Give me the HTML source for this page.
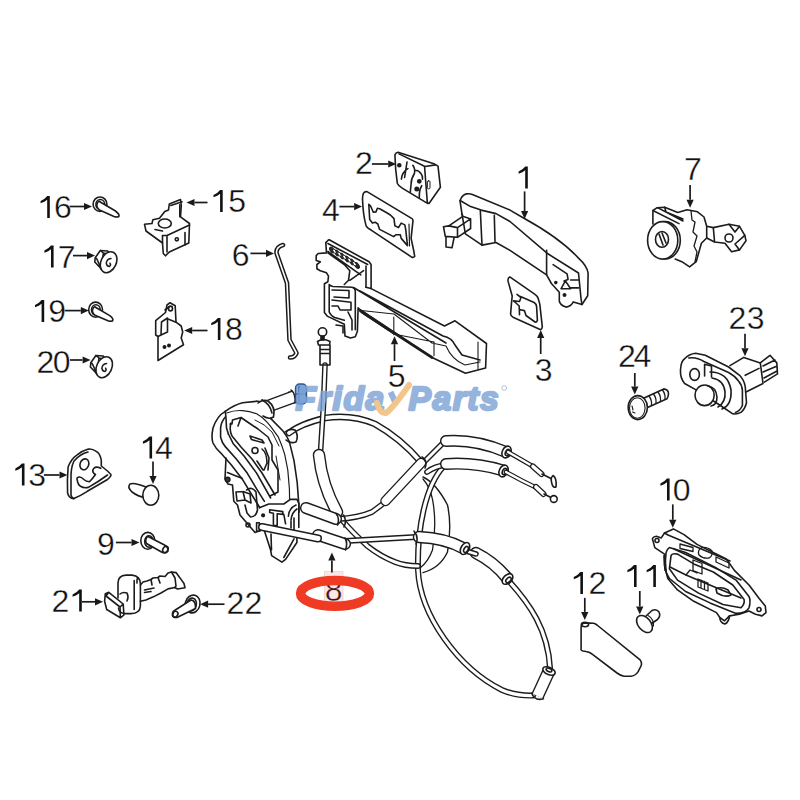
<!DOCTYPE html>
<html><head><meta charset="utf-8"><style>
html,body{margin:0;padding:0;background:#fff;width:800px;height:800px;overflow:hidden}
svg{position:absolute;left:0;top:0;display:block}
text{font-family:"Liberation Sans",sans-serif;font-size:32px;fill:#111;stroke:#fff;stroke-width:0.35px}
</style></head><body>
<svg width="800" height="800" viewBox="0 0 800 800">
<g fill="none" stroke="#1c1c1c" stroke-width="1.6" stroke-linejoin="round" stroke-linecap="round">
<!-- 16 screw -->
<ellipse cx="100" cy="204.2" rx="6.9" ry="7.2" fill="#fff"/>
<ellipse cx="100.3" cy="204.5" rx="4.4" ry="5"/>
<path d="M99 201.3 L115.5 211 Q120 214.5 118.8 216.5 Q117 217.5 114 216.5 L99.5 210 Q96.3 207.5 97 204 Q97.6 201.8 99 201.3 Z" fill="#fff"/>
<!-- 19 screw -->
<ellipse cx="95.6" cy="309.7" rx="6.9" ry="7.6" fill="#fff"/>
<ellipse cx="95.9" cy="310" rx="4.4" ry="5.2"/>
<path d="M94.6 306.8 L109.8 315.6 Q114 319 112.6 320.8 Q111 321.8 108 320.8 L95 315.2 Q91.8 312.8 92.6 309.5 Q93.2 307.3 94.6 306.8 Z" fill="#fff"/>
<!-- 17 nut -->
<path d="M95.2 257.8 L100.3 250.5 L107.6 251 L109 253.5 M95.2 257.8 L94.8 262 L100 267.5 L102 270 M96.6 258.5 L100.5 267 M100.3 250.5 L103.4 253 L101.5 268 M103.4 253 L108 254"/>
<ellipse cx="108.6" cy="262.2" rx="7.6" ry="11" transform="rotate(25 108.6 262.2)" fill="#fff"/>
<path d="M111 258.5 Q106.5 259 106.3 263.5 Q107 266.5 109.5 266.5 Q111.3 265 110 263.2" stroke-width="1.5"/>
<!-- 20 nut -->
<g transform="translate(-4.4 105)"><path d="M95.2 257.8 L100.3 250.5 L107.6 251 L109 253.5 M95.2 257.8 L94.8 262 L100 267.5 L102 270 M96.6 258.5 L100.5 267 M100.3 250.5 L103.4 253 L101.5 268 M103.4 253 L108 254"/>
<ellipse cx="108.6" cy="262.2" rx="7.6" ry="11" transform="rotate(25 108.6 262.2)" fill="#fff"/>
<path d="M111 258.5 Q106.5 259 106.3 263.5 Q107 266.5 109.5 266.5 Q111.3 265 110 263.2" stroke-width="1.5"/>
</g>
<!-- 15 bracket -->
<path d="M144.5 224.3 L146 231 L162.5 243 L163.3 253.5 L165.5 255.8 L169.3 252 L188.8 243 L189.5 223.5 L180.5 216.8 L181.3 205.5 L180.5 199.5 L169.3 204 L168.5 210 L164.8 211.5 L159.5 218.3 L152.8 219.8 L152 223.5 Z"/>
<path d="M170.8 205.5 L182 201.8 M179.8 204.8 L179.8 216.8 M162.5 235.5 L162.5 243 M167 235.5 L167 252 M162.5 235.5 L167 235.5 L189.5 225 M185 232.5 L185 245 M155 229.5 L162.5 231"/>
<ellipse cx="164.8" cy="223.5" rx="6.5" ry="4.5"/>
<circle cx="176.8" cy="239.3" r="1.6"/>
<!-- 18 bracket -->
<path d="M158 360.5 L158 336.5 L155.7 335 L155.7 320.7 L165.5 312.5 L167 305 L170 302.7 L175.2 305.7 L176 322.2 L181.2 326 L182.7 332 L181.2 338 L183.5 344.7 Z"/>
<path d="M158 336.5 L161 335 L161.5 322 L167.5 318 L167.5 332 L161 335 M165 310 L169 307 M176 322.2 L168 319"/>
<ellipse cx="170.5" cy="308.5" rx="2" ry="2.4"/>
<circle cx="164.5" cy="347" r="1.2" fill="#1c1c1c"/><circle cx="169" cy="345.5" r="1.2" fill="#1c1c1c"/>
<!-- 6 rod -->
<path d="M283 245 Q276 247 276.5 253 L287 283 L289.5 340 L296.5 353 Q295 357.5 290 357.5" stroke-width="4.6"/>
<path d="M283 245 Q276 247 276.5 253 L287 283 L289.5 340 L296.5 353 Q295 357.5 290 357.5" stroke="#fff" stroke-width="1.6"/>
<!-- 2 cover -->
<path d="M394.9 154.8 Q396 152.5 398.1 152.3 L434.7 164.1 L438 166.1 L440.4 187.3 L429 203.5 L425 201.9 L402.2 188.1 Q398.5 186 397.3 183.2 L395.7 169.4 Z"/>
<path d="M399 153.9 L425 166.5 L435.5 164.9 M424.6 167 L427.4 203.5"/>
<path d="M401.4 179.1 Q402 172 407.9 168.6 M407 162 L404.6 177.5 M412.8 165.3 Q415.5 169 414.4 173.5 Q411 179 411.1 184 L410.3 192.2 M415.2 170.2 Q419 170.5 420.9 173.5 Q423 176 422.5 179.1 M421.7 185.7 Q419 190 419.3 197.8"/>
<circle cx="399.3" cy="165.3" r="1.5" fill="#1c1c1c"/><circle cx="419.3" cy="181.3" r="1.6" fill="#1c1c1c"/><circle cx="416.8" cy="188.9" r="1.7" fill="#1c1c1c"/>
<rect x="427.4" y="180.8" width="2.6" height="8" rx="1" stroke-width="1"/>
<!-- 4 gasket -->
<path d="M363.4 193.4 Q364.5 191.4 367 191.6 L412 218.6 Q413.3 219.6 412.9 221.3 L411.1 238.4 L413.8 251 L414.7 256.4 Q413.8 257.8 412 257.3 L371.5 230.3 Q367 228 366.1 225.8 Q363 215 362.5 198.8 Q362.6 195 363.4 193.4 Z"/>
<path d="M368.8 204.2 L370.6 206 L373.3 212.3 L376 211.9 L377.4 208.3 L379.6 208.7 L385.9 212.3 L390.4 215 L394 218.6 L394.9 225.8 L398.5 227.6 L401.2 223.1 L404.8 224.9 L405.7 229.4 L407.5 245.6 L401.2 238.4 L400.3 234.8 L395.8 234.8 L393.6 236.6 L379.6 229.4 L377.8 224 L375.1 222.2 L372.4 223.1 L369.7 219.5 Z"/>
<path d="M409 224 L409.5 246" stroke-width="1.2"/>
<!-- 1 handle -->
<path d="M460.1 200.5 Q462 195 466.3 193.9 Q470 193.5 472.4 194.4 L510 210.1 L523.5 218 Q560 238 578.8 258.4 Q587 266 588.1 273 L587.7 295.8 L582 304.5 L573.3 301.9 Q571 306.5 566 307.1 Q560 305 559.3 301 L559.3 292.3 L551.4 283.5 L546.6 274.8 L510 250.4 L496 242.5 L482 245.1 L465.4 233.8 L461.9 213.6 L460.1 201.4 Z"/>
<path d="M460.1 200.5 L470.6 206.6 L481.1 210.1 L496 213.6 L510 221.5 L547.9 253.8 L578.5 273 L581.1 299.3 L582 304.5"/>
<path d="M480.3 210 L482 245.1 M494.3 215.4 L495 241.6 M546.6 250.3 L546.6 274.8"/>
<path d="M457.5 227.6 L470.6 218.9 L470.6 228.5 L457.5 237.3 Z M443.5 226.8 L448.8 225.9 L462.8 216.3 L470.6 218.9 M448.8 225.9 L457.5 227.6 M443.5 226.8 L445.3 236.4 L457.5 237.3 M446 236.5 L446 247 L452 247.8 L454 238 M461.9 213.6 L462.8 216.3"/>
<path d="M553.1 264.7 L567.1 273.9 L568 279.1 M561 288.8 L565.4 280.9 L570.6 288.8 Z M570.6 280 L578.5 280 M570.6 287.9 L578.5 287.9 M564 281 L568 279.5"/>
<circle cx="555.8" cy="282.6" r="1" fill="#1c1c1c"/><circle cx="564.5" cy="294.9" r="1.2" fill="#1c1c1c"/>
<!-- 3 small gasket -->
<path d="M508.1 281.4 Q507.5 277.5 509.8 276.9 L535 294.4 Q537.5 296 538.2 298.5 L539.8 304.1 L542.3 326.9 Q542 329.5 540.7 329.8 L513 317.2 Q510.5 315.5 510.6 313.9 L511.4 304.1 L512.2 296 Z"/>
<path d="M520.5 296.5 L534.1 302.5 Q536.5 304 536.6 306.6 L537.4 320.4 Q536.5 322.5 535 322 L526 315.5 L524.4 310.6 L520.3 309.8 M519.5 314.7 L519.2 306 L515.4 302.5 L513.4 300.9 L519.5 301.5 L521 297.5 L517 294.4"/>
<!-- 5 handle base -->
<path d="M327.9 240.5 Q328.5 239.5 329.2 239.8 L369.1 261.8 L371.1 264.5 L371.1 288.6 L444.5 326 L455 320.8 L486.5 343.5 L485.6 368 L465.5 373.3 L432 357.5 L359.5 309.2 L358.1 307.8 L357.4 331.2 L355.3 336.7 L350.5 338 L345 336 L344.3 324.3 L327.2 316.1 L324.4 312.6 L324.4 283.8 L327.9 281.7 L328.5 276.2 L326.5 272.8 L320.3 270.7 L316.9 268.7 L316.9 264.5 L320.3 261.8 L316.2 260.4 L316.2 255.6 L318.2 253.5 L326.5 252.9 L325.8 242.6 Z"/>
<path d="M353.5 287.5 L441 340 L446 343 M360 291 L443 336 Q452 338 455 345 L462 355 L480 360 M371.1 288.6 L365.8 287.2"/>
<path d="M358.8 310.3 L394 314 L432 343 L446 346 M362 313 L393.8 334 L434 342 M393.8 317 L393.8 334.8 M434 341.8 L434 355.8 M446 346 Q452 360 465 365 L480 362 M478 342 L478 369" stroke-width="1.1"/>
<path d="M360.5 311 L432 357.5" stroke-width="2.8" stroke-dasharray="1.2 1.1"/>
<path d="M327.9 243.5 L367.7 264.5 M327.9 251.5 L360.8 274.8 M327.9 252.9 L344.3 264.5 L349.8 270.7 L348.5 280.3 L344.3 284.5 M363.6 270.7 L349.8 280.3 M366 266 L366 287"/>
<g fill="#2a2a2a" stroke-width="1"><ellipse cx="332" cy="250" rx="1.8" ry="3.3" transform="rotate(-35 332 250)"/><ellipse cx="337" cy="253" rx="1.8" ry="3.3" transform="rotate(-35 337 253)"/><ellipse cx="342" cy="256" rx="1.8" ry="3.3" transform="rotate(-35 342 256)"/><ellipse cx="347" cy="259" rx="1.8" ry="3.3" transform="rotate(-35 347 259)"/><ellipse cx="352" cy="262" rx="1.8" ry="3.3" transform="rotate(-35 352 262)"/><ellipse cx="357" cy="265.5" rx="1.8" ry="3.3" transform="rotate(-35 357 265.5)"/></g>
<g fill="#fff" stroke-width="0.9"><ellipse cx="334.5" cy="251.2" rx="1.3" ry="2.6" transform="rotate(-35 334.5 251.2)"/><ellipse cx="339.5" cy="254.2" rx="1.3" ry="2.6" transform="rotate(-35 339.5 254.2)"/><ellipse cx="344.5" cy="257.2" rx="1.3" ry="2.6" transform="rotate(-35 344.5 257.2)"/><ellipse cx="349.5" cy="260.2" rx="1.3" ry="2.6" transform="rotate(-35 349.5 260.2)"/><ellipse cx="354.5" cy="263.7" rx="1.3" ry="2.6" transform="rotate(-35 354.5 263.7)"/></g>
<path d="M329.2 284.5 Q330 286 333 286.5 L352 287.2 Q355 288 355.3 291 L355.3 329.8 M329.2 284.5 L329.2 312 Q331 316 334.7 317.4 L344.3 320.2 M332 290 L349 290.5 L349 298 L334 297 M332 300 L351 302.3 L351 310 L340 310 L338 306 L332 306 M348 312 L352 320 L352 330 M336 325 L343 326 L343 333"/>
<!-- 7 lock cylinder -->
<path d="M652.9 224 L652.9 210.5 L656.8 207.9 L664.7 207.2 L677.8 212.5 L687 209.8 L697.5 211.8 L704 217 L706.7 226.3 L713.3 227.6 L729 224.3 L739.5 226.3 L744.8 235.4 L746 240.7 L739.5 249.9 L731.6 251.8 L725 243.3 L714.6 242 L706.7 238 L701.4 243.3 L696.2 261.7 L689.6 266.9 L681.8 261.7 L675.2 259"/>
<path d="M652.9 210.5 L679 223.6 M658 207.9 L683 221 M664.7 207.2 L666 212 L683 219 M706.7 226.3 L706.7 238 M713.3 227.6 L714.6 242 M729 224.3 L735 232 L739.5 226.3 M739.5 249.9 L735 244 L744.8 235.4"/>
<path d="M691 211 L692 220 L695 222 L693 232 L697 236 L694 246 L697 252 L695 262" stroke-width="1.3"/>
<circle cx="729" cy="238" r="4"/>
<ellipse cx="665" cy="240.3" rx="15.3" ry="18.7" fill="#fff"/>
<ellipse cx="662.7" cy="240.3" rx="15.1" ry="18.7" fill="#fff"/>
<ellipse cx="662" cy="239.4" rx="6.5" ry="7.9"/>
<path d="M659 234 L663 245 M662 233 L666 243"/>
<!-- 23 switch -->
<path d="M730 365.6 L743.8 357.4 L760.3 362.9 L763 383.5 L746.5 391.8 M745.2 375.3 L759 368.4"/>
<path d="M760.3 362.9 L770 355.3 L776.8 362.9 L777.5 373.9 L764.4 382.1 M763 366 L775 360 M763 372 L776 366.5 M764 378 L777 371"/>
<path d="M680.5 369.8 Q681 361 684.6 358.8 Q689 354 695.6 353.3 L705.3 355.3 L728.6 367 L739.6 375.3 Q744 380 745.2 386.3 L746.5 402.8 Q745 409 741 412.4 Q737 414.5 732.8 413.8 L720.4 405.5 L697 390.4 L684.6 383.5 Q680 378 680.5 369.8 Z" fill="#fff"/>
<path d="M688.8 358 Q697 357 703.9 361.5 L728.6 372.5 Q735 376 738.3 380.8 Q742 385 742.4 390.4 L742.4 405.5 Q740 411 735.5 412.4"/>
<ellipse cx="694.6" cy="374.5" rx="4.8" ry="5.9"/>
<path d="M704.6 376 L704.6 364.3 L711.5 366 L711.5 377"/>
<path d="M710 372 Q728 372 731 390 Q732 405 722 409 M712 378 Q724 380 725 392 Q726 402 718 407"/>
<ellipse cx="704.6" cy="395.3" rx="9.6" ry="10.3" fill="#fff"/>
<path d="M708 386 Q716 387 717 397 Q717 405 711 406"/>
<!-- 24 screw -->
<path d="M643.5 398.3 L663.8 388.9 Q668.5 389.5 668.5 394 Q668 397.5 667 398.7 L647.5 407.6"/>
<path d="M649 396 Q652 400 651.5 405 M653.5 394 Q656.5 398 656 403 M658 392 Q661 396 660.5 401 M662.5 390 Q665.5 394 665 399" stroke-width="1.3"/>
<ellipse cx="637.8" cy="407.6" rx="9.6" ry="12" fill="#fff"/>
<ellipse cx="637.3" cy="408" rx="7.8" ry="10.2" stroke-width="1.1"/>
<path d="M632 406 L633 410 M632.5 412 L635 413" stroke-width="1.1"/>
<!-- 13 striker -->
<path d="M68.1 467 Q67 480 67.6 493 Q69 498.5 73.8 498.6 Q80 496 87.3 491.3 L107.5 479.5 Q111.5 476 110.9 474.5 L107.5 471 L101.3 466 L101.3 460.4 Q100 453 96.3 451.4 Q92 448.5 88.4 449.1 Q82 451 77.1 454.8 Q71 459 68.1 467 Z"/>
<path d="M88 452 Q80 454 74 461 Q70.5 468 71 480 L71 495 Q72 498.5 74 498.6"/>
<ellipse cx="84.4" cy="464.3" rx="4.3" ry="5.6" transform="rotate(20 84.4 464.3)"/>
<path d="M77.1 479.5 Q78 485 80.5 486.3 Q84 488.5 88.4 487.4 Q98 482 107.5 475 M100.8 468.3 Q96 466 94 468.3 Q91.5 471 94 473.5 L95.5 474.5 Q93 478 89.5 481.8 Q86 481.5 83.9 479.5 Q80.5 476 78.3 477.3 Q76.5 478 77.1 479.5"/>
<!-- 14 pin -->
<path d="M130 484 Q134 482 146 487 L147 497 Q140 498 132 492 Q127 487 130 484 Z"/>
<ellipse cx="150.8" cy="495.3" rx="8" ry="10" fill="#fff"/>
<!-- 9 bolt -->
<ellipse cx="147.8" cy="540.8" rx="7" ry="8.4" fill="#fff"/>
<ellipse cx="149" cy="541.5" rx="4.3" ry="5.8"/>
<path d="M147.5 536.2 L164.5 545 Q169 547.5 167.8 551.5 Q165.5 554 161.5 552 L146.5 543.5 Q144.5 540 147.5 536.2 Z" fill="#fff"/>
<ellipse cx="165.4" cy="549.4" rx="2.4" ry="3.4" transform="rotate(30 165.4 549.4)"/>
<!-- 21 -->
<path d="M118 598 L118 583 Q118 575.5 126 575.1 L132 575.1 Q140.4 576 140.4 584 L140.4 606 Q140 613.6 131 613.6 L125 613.6 Q119 613 118.5 608"/>
<path d="M134.2 580.6 L134.2 609.5 M137.5 578 Q136.5 580 137 583"/>
<path d="M120 594 Q123 591.5 127 593 Q129 597 127 601"/>
<path d="M140.4 585 L143 582 L147 581 L151 579.5 L153 578 L158 577.5 L160 576 L165 576.5 L168 573 L171.5 572 L176 572.6 L180 577.9 L184 583.5 L185 587.7 L177.5 589 L174.8 587.5 L168 588.9 L161 593 L152.8 597.1 L145.9 600 L140.4 601.3"/>
<path d="M144.5 590 L154 588 M144.5 592.5 L151 591.5 M171.5 572 L175 578 L176 586 L174.8 587.5 M158 577.5 L160 583 M151 579.5 L152 585"/>
<path d="M105.3 593.7 L108.8 592.3 L123.2 604 L123.9 615 L120.4 617.8 L106.7 609.5 L104.6 601.3 Z M108.8 592.3 L106 596 L120 607 L123.2 604 M120 607 L120.4 617.8"/>
<!-- 22 bolt -->
<ellipse cx="192.6" cy="604" rx="7.4" ry="9" transform="rotate(15 192.6 604)" fill="#fff"/>
<ellipse cx="191.5" cy="604.5" rx="4.8" ry="6.5" transform="rotate(15 191.5 604.5)"/>
<path d="M191 600 Q196 600.5 195.5 608.5 L177 617.5 Q172 618 172.5 613 Q173 611 174.5 610.5 Z" fill="#fff"/>
<ellipse cx="175.3" cy="614.3" rx="2.4" ry="3.1" transform="rotate(30 175.3 614.3)"/>
<!-- 12 cover -->
<path d="M581.1 650 L581.1 627 Q581.5 623 585 622.9 L593.4 623.3 Q595 623.5 597 625 L639.8 659.6 Q642.5 663 641 666 L638 671.9 Q635 676 631 676.2 L624 676.2 Q621 676 617 673 L592.5 654.4 Q590 652 586 651.5 L583 651 Q581 650.5 581.1 650 Z"/>
<ellipse cx="585" cy="624.6" rx="3.6" ry="2.2"/>
<!-- 11 pin -->
<path d="M646 616 L652 610.5 Q656.5 608.5 659 612 Q661 616 657.5 619.5 L651 624"/>
<ellipse cx="644.5" cy="624" rx="6.3" ry="9.8" transform="rotate(-40 644.5 624)" fill="#fff"/>
<path d="M648 615.5 Q654 619 653.5 626" stroke-width="1.1"/>
<!-- 10 inner handle -->
<path d="M653.1 541.1 Q651 537 656.4 536.3 L661.3 537.9 L664.5 533 L673.4 528.9 L684 534.6 L697 544.4 L726.3 559 L734.4 570.4 L749 585 L758.8 598 L765.3 606.1 L766 612.6 L762 615.9 L755.5 614.3 L749 611 L739.3 614.3 L729.5 615.9 L724.6 620.8 L719.8 617.5 L716.5 612.6 L693.8 601.3 L677.5 589.9 L667.8 578.5 L664.5 565.5 L664.5 554.1 L654.8 547.6 Z"/>
<path d="M669.4 547.6 Q667 549 666.1 552.5 L664.8 567.1 Q666 574 669.4 578.5 L685.6 591.5 L710 602.9 L736 613.4 Q746 613 749 607.8 Q751 601 749 596.4 L736 580.1 L714.9 567.1 L685.6 552.5 Z"/>
<path d="M677.5 554.1 Q672 553 671 555.8 L669.4 568.8 L677.5 580.1 L698.6 593.1 L723 604.5 L740.9 607.8 Q745 604 744.1 599.6 L732.8 585 L713.3 572 L693.8 563.9 Z"/>
<path d="M668 535 L730 561 M674 549 L741 580 M670 567 L686 575 L705 583 L741 598 M664.5 533 L668 535"/>
<path d="M680 544 L693 547.5 L693 551.5 L680 548.5 Z M702 547.5 Q708 547 712 551 Q713 556 709 558 Q703 559 699 555 Q697 550 702 547.5 Z M716 557 L729 563 L729 568 L716 562 Z M693 560 L702 563.5 L702 574 L693 570.5 Z M686 575 L690 570 L697 573 M698 579 L708 583 L708 591 L698 587 Z M701 580 L701 588 M704.5 581.5 L704.5 589.5" stroke-width="1.3"/>
<path d="M716 589 Q721 586 728 590 L731 595 Q725 598 717 593 Z"/>
<circle cx="657" cy="540.5" r="2"/><circle cx="759" cy="609.5" r="2"/>
<path d="M719.8 617.5 Q720 623 725 624 Q729 622 729.5 615.9"/>
<path d="M664.5 556 L665.5 570" stroke-width="2.6"/>


<path d="M423 477 Q436 483 447.5 505 Q452 525 447.5 552 Q440 568 423 572.6" stroke-width="1.4"/>
<path d="M423 479 Q430 487 432.5 499.4 Q437 523 432.5 550 Q428 562 420 568" stroke-width="1.3"/>
<path d="M444 466 C425 486 417 530 418 570 C420 615 458 668 502 690 Q516 696 533 695.5" stroke="#1c1c1c" stroke-width="6" stroke-linecap="round"/><path d="M444 466 C425 486 417 530 418 570 C420 615 458 668 502 690 Q516 696 533 695.5" stroke="#fff" stroke-width="3.2" stroke-linecap="round"/>
<path d="M508 580 C530 604 548 630 550 668" stroke="#1c1c1c" stroke-width="6" stroke-linecap="round"/><path d="M508 580 C530 604 548 630 550 668" stroke="#fff" stroke-width="3.2" stroke-linecap="round"/>
<path d="M289 433 Q300 424 325 418 Q352 414 375 424 Q400 438 420 461" stroke="#1c1c1c" stroke-width="6.6" stroke-linecap="round"/><path d="M289 433 Q300 424 325 418 Q352 414 375 424 Q400 438 420 461" stroke="#fff" stroke-width="3.8" stroke-linecap="round"/>
<path d="M325 365 L323.5 405 L320.5 452" stroke="#1c1c1c" stroke-width="5.6" stroke-linecap="round"/><path d="M325 365 L323.5 405 L320.5 452" stroke="#fff" stroke-width="2.8" stroke-linecap="round"/>
<path d="M342 520 Q352 532 367.8 546.3 Q380 556 395 562 Q405 566 418 566" stroke="#1c1c1c" stroke-width="5.8" stroke-linecap="round"/><path d="M342 520 Q352 532 367.8 546.3 Q380 556 395 562 Q405 566 418 566" stroke="#fff" stroke-width="3.0" stroke-linecap="round"/>
<path d="M338 519 Q358 518 372 512 L384 503" stroke="#1c1c1c" stroke-width="5.8" stroke-linecap="round"/><path d="M338 519 Q358 518 372 512 L384 503" stroke="#fff" stroke-width="3.0" stroke-linecap="round"/>
<path d="M424 462 L432 454 L445 441" stroke="#1c1c1c" stroke-width="5.8" stroke-linecap="round"/><path d="M424 462 L432 454 L445 441" stroke="#fff" stroke-width="3.0" stroke-linecap="round"/>
<path d="M427 472 Q435 466 446 465" stroke="#1c1c1c" stroke-width="5.8" stroke-linecap="round"/><path d="M427 472 Q435 466 446 465" stroke="#fff" stroke-width="3.0" stroke-linecap="round"/>
<path d="M345 541 Q380 539 416 537" stroke="#1c1c1c" stroke-width="6" stroke-linecap="round"/><path d="M345 541 Q380 539 416 537" stroke="#fff" stroke-width="3.2" stroke-linecap="round"/>
<path d="M319 455 Q322 485 337 512" stroke="#1c1c1c" stroke-width="12.5" stroke-linecap="round"/><path d="M319 455 Q322 485 337 512" stroke="#fff" stroke-width="9.7" stroke-linecap="round"/>
<path d="M306 508 L336 519" stroke="#1c1c1c" stroke-width="12" stroke-linecap="round"/><path d="M306 508 L336 519" stroke="#fff" stroke-width="9.2" stroke-linecap="round"/>
<path d="M385.5 501 L421 463" stroke="#1c1c1c" stroke-width="10.5" stroke-linecap="round"/><path d="M385.5 501 L421 463" stroke="#fff" stroke-width="7.7" stroke-linecap="round"/>
<path d="M318 535 L345 544" stroke="#1c1c1c" stroke-width="12" stroke-linecap="round"/><path d="M318 535 L345 544" stroke="#fff" stroke-width="9.2" stroke-linecap="round"/>
<path d="M419 537 Q445 538 464 548.5" stroke="#1c1c1c" stroke-width="12.5" stroke-linecap="round"/><path d="M419 537 Q445 538 464 548.5" stroke="#fff" stroke-width="9.7" stroke-linecap="round"/>
<path d="M476 553 Q494 562 507 578" stroke="#1c1c1c" stroke-width="12.5" stroke-linecap="round"/><path d="M476 553 Q494 562 507 578" stroke="#fff" stroke-width="9.7" stroke-linecap="round"/>
<path d="M446 441 Q476 439 506 452" stroke="#1c1c1c" stroke-width="12" stroke-linecap="round"/><path d="M446 441 Q476 439 506 452" stroke="#fff" stroke-width="9.2" stroke-linecap="round"/>
<path d="M446 464 Q475 462 503 470.5" stroke="#1c1c1c" stroke-width="12" stroke-linecap="round"/><path d="M446 464 Q475 462 503 470.5" stroke="#fff" stroke-width="9.2" stroke-linecap="round"/>
<path d="M549 671 L537.5 696" stroke="#1c1c1c" stroke-width="13" stroke-linecap="butt"/><path d="M549 671 L537.5 696" stroke="#fff" stroke-width="10.2" stroke-linecap="butt"/>
<path d="M531.6 693.3 Q535 701.5 543.4 698.7" />
<ellipse cx="549" cy="671" rx="6.6" ry="3.6" transform="rotate(24 549 671)" fill="#fff"/><ellipse cx="549" cy="670" rx="3" ry="1.6" transform="rotate(24 549 670)"/>
<path d="M466 551 L476 554" stroke="#1c1c1c" stroke-width="5.5" stroke-linecap="round"/><path d="M466 551 L476 554" stroke="#fff" stroke-width="2.7" stroke-linecap="round"/>
<ellipse cx="506.5" cy="452" rx="4.2" ry="6.2" fill="#fff" transform="rotate(25 506.5 452)"/><ellipse cx="507.5" cy="452.5" rx="2" ry="3.3" transform="rotate(25 507.5 452.5)"/>
<ellipse cx="503.5" cy="471" rx="4.2" ry="6.2" fill="#fff" transform="rotate(25 503.5 471)"/><ellipse cx="504.5" cy="471.5" rx="2" ry="3.3" transform="rotate(25 504.5 471.5)"/>
<ellipse cx="465" cy="548.5" rx="4" ry="6.5" fill="#fff" transform="rotate(30 465 548.5)"/><ellipse cx="466" cy="549.5" rx="2" ry="3.3" transform="rotate(30 466 549.5)"/>
<ellipse cx="507.5" cy="579" rx="4" ry="6.3" fill="#fff" transform="rotate(45 507.5 579)"/><ellipse cx="508.5" cy="580" rx="2" ry="3.2" transform="rotate(45 508.5 580)"/>
<path d="M336 513.5 Q340 518 337.5 525 M343.5 515 Q347 521 344 527 M345 538 Q348 543 345.5 550 M414 531 Q419 537 416 544 M422 457 Q428 461 425 468"/>
<path d="M508 452 Q522 460 534 467" stroke="#1c1c1c" stroke-width="4.6" stroke-linecap="round"/><path d="M508 452 Q522 460 534 467" stroke="#fff" stroke-width="2.1999999999999997" stroke-linecap="round"/>
<path d="M506 472 Q522 481 537 488" stroke="#1c1c1c" stroke-width="4.6" stroke-linecap="round"/><path d="M506 472 Q522 481 537 488" stroke="#fff" stroke-width="2.1999999999999997" stroke-linecap="round"/>
<path d="M533 466.5 L541.5 474" stroke="#1c1c1c" stroke-width="6" stroke-linecap="round"/><path d="M533 466.5 L541.5 474" stroke="#fff" stroke-width="3.6" stroke-linecap="round"/>
<path d="M536 487 L543.5 494" stroke="#1c1c1c" stroke-width="6" stroke-linecap="round"/><path d="M536 487 L543.5 494" stroke="#fff" stroke-width="3.6" stroke-linecap="round"/>
<path d="M542 474 L552 479 M544 494 L551 497.5"/>
<path d="M553 475.5 Q557 478 556 487 Q553 488 552 484 Q550 478 553 475.5 Z" fill="#fff"/><circle cx="553.8" cy="499" r="3.4" fill="#fff"/>
<circle cx="322.5" cy="332" r="4.2" fill="#fff"/><path d="M321 336 L324 336 L324 340 L321 340 Z" fill="#1c1c1c"/><path d="M317.5 341.5 Q323 337.5 330 341.5 L329.5 345 L318.5 345 Z M320 345 L320 365 L330 365 L330 345 M320 349.5 L330 349.5 M320 353.5 L330 353.5"/>
<path d="M225.3 411.4 Q217 416 213 428 Q211 438 213 443 Q216 449 220.6 452.8 L231.6 465.3 L242.5 479.4 L251.9 495 L259.7 507.5"/>
<path d="M225.3 416.9 Q221 422 220.6 428 L220.6 437.2 Q222 443 225.3 446.6 L236.3 459 L247.2 473.1 L256.6 488.8 L264.4 501.3"/>
<path d="M225.3 411.4 L226 418 L226.5 428 L228.4 434"/>
<path d="M225.3 411.4 Q234 405 242.5 402.8 L256.6 401.3 M270.6 418.4 L283 431 Q287 436 289.4 441.9 L294 460.6 L297.2 482.5 L298.8 504.4 L299 512"/>
<path d="M226.9 413 Q234 410 242.5 410.6 Q250 411 256.6 413.8 Q264 418 270.6 426.3 L278.4 437.2 Q282 445 284.7 454.4 L287.8 470 L289.4 488.8 L289.6 500" stroke-width="1.2"/>
<path d="M255 420 Q265 424 272 432 L279 446 M276 456 L280 480" stroke-width="1"/>
<path d="M228.4 434 L233.1 443.4 L244 456 L256.6 473.1 L270.6 498 M231 423 Q229 430 232 436 L241 447 L252 459 L262 473 L275 495"/>
<path d="M230 424 L232 424 L232.5 420 L241 417.5 L249 423 L258 429 L268 437 L272 445 L272 460 L278 470 L278 492 L270 496 M241 417.5 L238 426"/>
<path d="M250 436 L262 440 L264 443 L251.5 439.6 Z"/>
<circle cx="255" cy="450.5" r="3"/>
<path d="M262 449 Q267 453 267 463 L264 470 M265 448 L269 458 L268 470 M257 461 L263 470"/>
<path d="M226 458 L225 478.8 L228 484 L232.5 485 L233.8 501.3 L237.5 505 L240 515 L247.5 523.8 L255 532.5 L262 530"/>
<circle cx="227.6" cy="479.5" r="2.3" fill="#3a3a3a"/>
<path d="M227.5 472.6 L236 476 L242 478.3 M246.6 490 Q252 486 256 492 L257.5 510 Q256 517 250.5 517 L247 513 L245 505"/>
<path d="M236 492 L243 491.5 L245 500 L237 501 Z M243 491.5 L250 494 L251 503 L245 500"/>
<circle cx="248" cy="525" r="2"/>
<path d="M256.6 401.3 Q266 401 270 408 Q273 413 270.6 418.4 M262 400 Q270 404 272 412 M289 392 Q294 396 293 403"/>
<path d="M285 432 Q290 428 295 430 Q299 436 296 442 Q290 444 286 440"/>
<path d="M266 407 L295 396.4" stroke="#1c1c1c" stroke-width="13" stroke-linecap="butt"/><path d="M266 407 L295 396.4" stroke="#fff" stroke-width="10.2" stroke-linecap="butt"/>
<path d="M258 403 Q263 399 268 401 Q276 407 273.5 417 Q269 420 263 416" fill="#fff"/><path d="M262 400 Q270 404 272 413"/>
<path d="M291 390 Q296 394 295 403"/>
<rect x="295.5" y="384" width="11" height="20" rx="4" fill="#86a8d8" stroke="#2e5590" stroke-width="1.4"/><path d="M296 394 L306 394 M299 386 L299 402" stroke="#2e5590" stroke-width="1.1"/>
<path d="M259.4 507.8 L268.8 504 L283.8 504 L290.3 499.4 L296.9 499.4 L298.8 503.1 L298.8 527.5"/>
<path d="M269.7 509.7 L282.8 511.6 L282.8 514.4 L277.2 513.8 L277.2 525.6 L273.4 525.6 L273.4 513.2 L269.7 512.5 Z M283.8 514.4 L285.6 523.8 M288.4 516.3 Q289 508 296 505 M291 520 Q292 512 297 509 M291 521 L291 528 M294 518 L294 530"/>
<circle cx="263.1" cy="515.3" r="1.3" fill="#1c1c1c"/>
<path d="M256.6 522.8 L259.4 522.8 L259.4 531.3 L256.6 531.3 Z"/>
<path d="M264 529.4 L270.6 550 L271.6 555.6 L281.9 562.2 L285.6 559.4 L296.9 542.5 L296.9 537.8 M271 534 L271.5 550 M294 538.8 L283.8 557.5"/>
<path d="M262 527 L318 538.5" stroke="#1c1c1c" stroke-width="8"/><path d="M262 527 L318 538.5" stroke="#fff" stroke-width="5"/>
</g>

<g>
<rect x="324.5" y="571.5" width="18.5" height="30" fill="#f9e6e6" stroke="#f0d0d0" stroke-width="0.8"/>
<text x="324.8" y="600.5" style="fill:#4a1212">8</text>
<ellipse cx="335" cy="593.4" rx="34.4" ry="12.9" fill="none" stroke="#ef3b24" stroke-width="9.6"/>
</g>
<g opacity="0.8">
<text x="295.5" y="410" letter-spacing="1.7" style="font-family:'Liberation Sans';font-size:33.5px;font-weight:bold;font-style:italic;fill:#7aa2d5;stroke:#7aa2d5;stroke-width:2.4;stroke-linejoin:round">Frida</text>
<text x="408.5" y="410" letter-spacing="1.6" style="font-family:'Liberation Sans';font-size:33.5px;font-weight:bold;font-style:italic;fill:#7aa2d5;stroke:#7aa2d5;stroke-width:2.4;stroke-linejoin:round">Parts</text>
<path d="M390.6 392 L395.5 403" stroke="#7aa2d5" stroke-width="6" fill="none"/>
<path d="M377 403 Q380 414 386 413 Q393 408 409 385" stroke="#f0b96e" stroke-width="6" fill="none" stroke-linecap="round"/>
<circle cx="504.2" cy="388" r="2.4" fill="none" stroke="#8fb0d8" stroke-width="0.9"/>
</g>

<g><line x1="69.4" y1="206.5" x2="84.0" y2="206.5" stroke="#1a1a1a" stroke-width="1.7"/><path d="M92.0 206.5 L84.0 210.1 L84.0 202.9 Z" fill="#1a1a1a"/><line x1="73.0" y1="255.6" x2="87.0" y2="255.6" stroke="#1a1a1a" stroke-width="1.7"/><path d="M95.0 255.6 L87.0 259.2 L87.0 252.0 Z" fill="#1a1a1a"/><line x1="64.4" y1="310.6" x2="80.8" y2="310.6" stroke="#1a1a1a" stroke-width="1.7"/><path d="M88.8 310.6 L80.8 314.2 L80.8 307.0 Z" fill="#1a1a1a"/><line x1="70.0" y1="360.0" x2="82.6" y2="360.0" stroke="#1a1a1a" stroke-width="1.7"/><path d="M90.6 360.0 L82.6 363.6 L82.6 356.4 Z" fill="#1a1a1a"/><line x1="207.5" y1="202.5" x2="194.5" y2="202.5" stroke="#1a1a1a" stroke-width="1.7"/><path d="M186.5 202.5 L194.5 198.9 L194.5 206.1 Z" fill="#1a1a1a"/><line x1="207.5" y1="330.5" x2="192.2" y2="330.5" stroke="#1a1a1a" stroke-width="1.7"/><path d="M184.2 330.5 L192.2 326.9 L192.2 334.1 Z" fill="#1a1a1a"/><line x1="250.4" y1="253.4" x2="266.0" y2="253.4" stroke="#1a1a1a" stroke-width="1.7"/><path d="M274.0 253.4 L266.0 257.0 L266.0 249.8 Z" fill="#1a1a1a"/><line x1="371.9" y1="164.0" x2="388.2" y2="164.0" stroke="#1a1a1a" stroke-width="1.7"/><path d="M396.2 164.0 L388.2 167.6 L388.2 160.4 Z" fill="#1a1a1a"/><line x1="339.4" y1="206.6" x2="354.1" y2="206.6" stroke="#1a1a1a" stroke-width="1.7"/><path d="M362.1 206.6 L354.1 210.2 L354.1 203.0 Z" fill="#1a1a1a"/><line x1="524.6" y1="191.4" x2="524.6" y2="211.0" stroke="#1a1a1a" stroke-width="1.7"/><path d="M524.6 219.0 L521.0 211.0 L528.2 211.0 Z" fill="#1a1a1a"/><line x1="540.7" y1="354.0" x2="540.7" y2="338.0" stroke="#1a1a1a" stroke-width="1.7"/><path d="M540.7 330.0 L544.3 338.0 L537.1 338.0 Z" fill="#1a1a1a"/><line x1="394.5" y1="361.0" x2="394.5" y2="344.2" stroke="#1a1a1a" stroke-width="1.7"/><path d="M394.5 336.2 L398.1 344.2 L390.9 344.2 Z" fill="#1a1a1a"/><line x1="690.1" y1="185.0" x2="690.1" y2="199.7" stroke="#1a1a1a" stroke-width="1.7"/><path d="M690.1 207.7 L686.5 199.7 L693.7 199.7 Z" fill="#1a1a1a"/><line x1="745.0" y1="333.8" x2="745.0" y2="348.2" stroke="#1a1a1a" stroke-width="1.7"/><path d="M745.0 356.2 L741.4 348.2 L748.6 348.2 Z" fill="#1a1a1a"/><line x1="634.8" y1="373.0" x2="634.8" y2="386.5" stroke="#1a1a1a" stroke-width="1.7"/><path d="M634.8 394.5 L631.1 386.5 L638.4 386.5 Z" fill="#1a1a1a"/><line x1="43.9" y1="475.0" x2="59.5" y2="475.0" stroke="#1a1a1a" stroke-width="1.7"/><path d="M67.5 475.0 L59.5 478.6 L59.5 471.4 Z" fill="#1a1a1a"/><line x1="153.0" y1="461.5" x2="153.0" y2="476.0" stroke="#1a1a1a" stroke-width="1.7"/><path d="M153.0 484.0 L149.4 476.0 L156.6 476.0 Z" fill="#1a1a1a"/><line x1="115.9" y1="542.5" x2="131.5" y2="542.5" stroke="#1a1a1a" stroke-width="1.7"/><path d="M139.5 542.5 L131.5 546.1 L131.5 538.9 Z" fill="#1a1a1a"/><line x1="82.0" y1="601.8" x2="95.0" y2="601.8" stroke="#1a1a1a" stroke-width="1.7"/><path d="M103.0 601.8 L95.0 605.4 L95.0 598.2 Z" fill="#1a1a1a"/><line x1="224.5" y1="604.2" x2="208.1" y2="604.2" stroke="#1a1a1a" stroke-width="1.7"/><path d="M200.1 604.2 L208.1 600.6 L208.1 607.8 Z" fill="#1a1a1a"/><line x1="331.9" y1="572.5" x2="331.9" y2="560.5" stroke="#1a1a1a" stroke-width="1.7"/><path d="M331.9 552.5 L335.5 560.5 L328.3 560.5 Z" fill="#1a1a1a"/><line x1="672.8" y1="504.4" x2="672.8" y2="519.8" stroke="#1a1a1a" stroke-width="1.7"/><path d="M672.8 527.8 L669.1 519.8 L676.4 519.8 Z" fill="#1a1a1a"/><line x1="639.8" y1="591.0" x2="639.8" y2="606.4" stroke="#1a1a1a" stroke-width="1.7"/><path d="M639.8 614.4 L636.1 606.4 L643.4 606.4 Z" fill="#1a1a1a"/><line x1="584.8" y1="597.9" x2="584.8" y2="611.9" stroke="#1a1a1a" stroke-width="1.7"/><path d="M584.8 619.9 L581.1 611.9 L588.4 611.9 Z" fill="#1a1a1a"/></g>
<g><text x="38.6" y="218.1" letter-spacing="-2.5">&#x2007;6</text><path d="M49.80 195.90 L47.20 195.90 Q45.00 198.90 40.60 200.90 L40.60 203.30 Q44.80 201.70 47.20 199.70 L47.20 218.10 L49.80 218.10 Z" fill="#111"/><text x="42.4" y="267.6" letter-spacing="-2.5">&#x2007;7</text><path d="M53.60 245.40 L51.00 245.40 Q48.80 248.40 44.40 250.40 L44.40 252.80 Q48.60 251.20 51.00 249.20 L51.00 267.60 L53.60 267.60 Z" fill="#111"/><text x="33" y="322.1" letter-spacing="-2.5">&#x2007;9</text><path d="M44.20 299.90 L41.60 299.90 Q39.40 302.90 35.00 304.90 L35.00 307.30 Q39.20 305.70 41.60 303.70 L41.60 322.10 L44.20 322.10 Z" fill="#111"/><text x="36.5" y="372.6" letter-spacing="-1.5">20</text><text x="211.5" y="212.1" letter-spacing="-1.0">&#x2007;5</text><path d="M222.70 189.90 L220.10 189.90 Q217.90 192.90 213.50 194.90 L213.50 197.30 Q217.70 195.70 220.10 193.70 L220.10 212.10 L222.70 212.10 Z" fill="#111"/><text x="209.25" y="340.1" letter-spacing="-2.0">&#x2007;8</text><path d="M220.45 317.90 L217.85 317.90 Q215.65 320.90 211.25 322.90 L211.25 325.30 Q215.45 323.70 217.85 321.70 L217.85 340.10 L220.45 340.10 Z" fill="#111"/><text x="231.75" y="266.1">6</text><text x="354.9" y="173.6">2</text><text x="322.1" y="220.6">4</text><path d="M527.80 166.40 L525.20 166.40 Q523.00 169.40 518.60 171.40 L518.60 173.80 Q522.80 172.20 525.20 170.20 L525.20 188.60 L527.80 188.60 Z" fill="#111"/><text x="534.75" y="381.1">3</text><text x="387.75" y="386.6">5</text><text x="684" y="180.1">7</text><text x="728.4" y="328.6" letter-spacing="0.5">23</text><text x="618.1" y="366.6" letter-spacing="-2.5">24</text><text x="13.3" y="485.6" letter-spacing="-2.8">&#x2007;3</text><path d="M24.50 463.40 L21.90 463.40 Q19.70 466.40 15.30 468.40 L15.30 470.80 Q19.50 469.20 21.90 467.20 L21.90 485.60 L24.50 485.60 Z" fill="#111"/><text x="140.9" y="458.6" letter-spacing="-3.8">&#x2007;4</text><path d="M152.10 436.40 L149.50 436.40 Q147.30 439.40 142.90 441.40 L142.90 443.80 Q147.10 442.20 149.50 440.20 L149.50 458.60 L152.10 458.60 Z" fill="#111"/><text x="97" y="554.6">9</text><text x="51.5" y="611.6" letter-spacing="1.3">2&#x2007;</text><path d="M81.79 589.40 L79.19 589.40 Q76.99 592.40 72.59 594.40 L72.59 596.80 Q76.79 595.20 79.19 593.20 L79.19 611.60 L81.79 611.60 Z" fill="#111"/><text x="226.6" y="614.1">22</text><text x="658.4" y="500.6" letter-spacing="-3.4">&#x2007;0</text><path d="M669.60 478.40 L667.00 478.40 Q664.80 481.40 660.40 483.40 L660.40 485.80 Q664.60 484.20 667.00 482.20 L667.00 500.60 L669.60 500.60 Z" fill="#111"/><path d="M636.60 564.90 L634.00 564.90 Q631.80 567.90 627.40 569.90 L627.40 572.30 Q631.60 570.70 634.00 568.70 L634.00 587.10 L636.60 587.10 Z" fill="#111"/><path d="M655.89 564.90 L653.29 564.90 Q651.09 567.90 646.69 569.90 L646.69 572.30 Q650.89 570.70 653.29 568.70 L653.29 587.10 L655.89 587.10 Z" fill="#111"/><text x="571.75" y="594.1" letter-spacing="-1.0">&#x2007;2</text><path d="M582.95 571.90 L580.35 571.90 Q578.15 574.90 573.75 576.90 L573.75 579.30 Q577.95 577.70 580.35 575.70 L580.35 594.10 L582.95 594.10 Z" fill="#111"/></g>
</svg>
</body></html>
